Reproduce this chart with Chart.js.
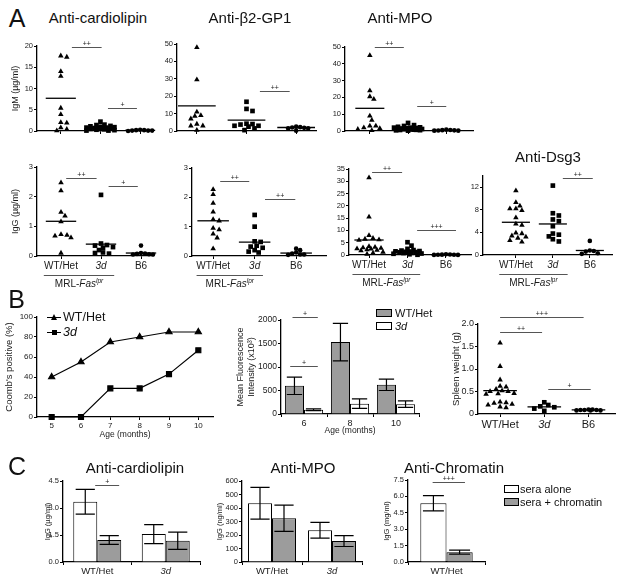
<!DOCTYPE html>
<html>
<head>
<meta charset="utf-8">
<script src="https://cdn.jsdelivr.net/npm/chart.js@4.4.1/dist/chart.umd.min.js"></script>
<style>
  body { margin: 0; background: #fff; }
  #fig { position: relative; width: 624px; height: 584px; overflow: hidden; font-family: "Liberation Sans", Arial, sans-serif; color: #111; }
  #fig canvas { position: absolute; }
  .t { position: absolute; white-space: nowrap; line-height: 1; transform: translate(-50%, -50%); }
  .l { position: absolute; white-space: nowrap; line-height: 1; transform: translate(0, -50%); }
  .box { position: absolute; border: 1px solid #000; box-sizing: border-box; }
</style>
</head>
<body>
<div id="fig"></div>
<script>
const FONT = '"Liberation Sans", Arial, sans-serif';
const INK = "#1a1a1a";
const GREY = "#9c9c9c";

// ---- A: autoantibody scatter data (groups WT/Het, 3d, B6) ----
const groups = ["WT/Het", "3d", "B6"];

const clIgmWT = [17.7, 17.4, 14.0, 12.9, 5.4, 3.9, 2.0, 1.9, 0.8, 0.4, 0.1];
const clIgm3d = [2.2, 1.5, 1.4, 1.2, 1.1, 1.0, 0.9, 0.8, 0.8, 0.7, 0.7, 0.6, 0.6, 0.5, 0.5, 0.4, 0.3, 0.2, 0.1, 0.1];
const clIgmB6 = [0.3, 0.2, 0.2, 0.1, 0.1, 0.1, 0.0];
const clIgmMean = [7.7, 0.7, 0.15];

const b2IgmWT = [48, 29.5, 11, 9, 8.5, 7, 4, 3, 3, 0.5];
const b2Igm3d = [16.8, 12.7, 11.5, 4.2, 4, 3.7, 3, 3, 2.5, 1.5, 0.5];
const b2IgmB6 = [2.5, 2.2, 2, 1.8, 1.5, 1.5, 0.2];
const b2IgmMean = [14.4, 6.3, 2.0];

const mpoIgmWT = [45, 24, 20.5, 19, 9, 6.5, 3, 3, 2, 1.5, 1, 0.3];
const mpoIgm3d = [4.8, 3.5, 3, 2.5, 2.2, 2, 2, 1.8, 1.6, 1.5, 1.4, 1.3, 1.2, 1.1, 1, 1, 0.9, 0.8, 0.7, 0.6, 0.5, 0.4, 0.2];
const mpoIgmB6 = [0.8, 0.6, 0.5, 0.4, 0.3, 0.2, 0.2];
const mpoIgmMean = [13.5, 1.4, 0.4];

const clIggWT = [2.47, 2.2, 1.48, 1.35, 1.16, 0.73, 0.7, 0.68, 0.62, 0.1];
const clIgg3d = [2.06, 0.42, 0.37, 0.35, 0.3, 0.28, 0.2, 0.12, 0.1, 0.08];
const clIggB6 = [0.35, 0.1, 0.08, 0.07, 0.06, 0.05, 0.05];
const clIggMean = [1.17, 0.4, 0.1];

const b2IggWT = [2.27, 2.1, 1.8, 1.5, 1.25, 1.2, 0.95, 0.9, 0.75, 0.62, 0.25];
const b2Igg3d = [1.4, 1.0, 0.5, 0.48, 0.35, 0.32, 0.28, 0.2, 0.15, 0.12];
const b2IggB6 = [0.25, 0.2, 0.12, 0.08, 0.05, 0.05, 0.04];
const b2IggMean = [1.2, 0.47, 0.1];

const mpoIggWT = [31.5, 15.5, 8, 6.8, 6.5, 6.2, 6, 3.5, 3.2, 3, 2.8, 2.6, 2.5, 2.2, 2, 1.8, 1.2, 0.8, 0.3];
const mpoIgg3d = [5.2, 3.8, 2.5, 2, 1.8, 1.6, 1.5, 1.4, 1.3, 1.2, 1.1, 1, 0.9, 0.8, 0.6, 0.5, 0.3, 0.1];
const mpoIggB6 = [0.3, 0.2, 0.15, 0.1, 0.1, 0.05, 0.05];
const mpoIggMean = [6.1, 1.5, 0.1];

const dsgWT = [11.4, 9.3, 8.7, 8.2, 8.2, 7.9, 6.6, 5.5, 5.3, 3.9, 3.8, 3.4, 3.2, 3.0, 2.6, 2.3];
const dsg3d = [12.3, 7.4, 7.0, 6.3, 6.0, 5.1, 3.8, 3.6, 3.3, 2.8, 2.4];
const dsgB6 = [2.5, 0.8, 0.7, 0.6, 0.3, 0.2];
const dsgMean = [5.8, 5.5, 0.8];

// ---- B ----
const ageMonths = [5, 6, 7, 8, 9, 10];
const coombsWT = [40, 55, 75, 80, 85, 85];
const coombs3d = [0, 0, 28.6, 28.6, 42.9, 66.7];

const mfiAges = ["6", "8", "10"];
const mfiWT = [600, 1530, 620];
const mfiWTErr = [185, 400, 120];
const mfi3d = [90, 220, 210];
const mfi3dErr = [20, 100, 70];

const spleenWT = [1.58, 1.06, 0.76, 0.62, 0.6, 0.55, 0.52, 0.5, 0.5, 0.46, 0.45, 0.44, 0.27, 0.25, 0.24, 0.22, 0.2, 0.16, 0.14];
const spleen3d = [0.26, 0.2, 0.17, 0.15, 0.12, 0.07];
const spleenB6 = [0.1, 0.1, 0.09, 0.09, 0.09, 0.08, 0.08, 0.08];
const spleenMean = [0.52, 0.16, 0.09];

// ---- C ----
const cGroups = ["WT/Het", "3d"];
const clAlone = [3.35, 1.55], clAloneErr = [0.69, 0.53];
const clChrom = [1.22, 1.18], clChromErr = [0.24, 0.48];
const mpoAlone = [435, 235], mpoAloneErr = [118, 58];
const mpoChrom = [324, 155], mpoChromErr = [97, 40];
const chrAlone = [5.37], chrAloneErr = [0.7];
const chrChrom = [0.9], chrChromErr = [0.18];

const fig = document.getElementById("fig");

// significance bars, error bars and the MRL-Fas(lpr) bracket
const extras = {
  id: "extras",
  afterDatasetsDraw(chart, args, opts) {
    const ctx = chart.ctx, xs = chart.scales.x, ys = chart.scales.y;
    ctx.save();
    ctx.strokeStyle = "#000";
    chart.data.datasets.forEach((ds, i) => {
      if (!ds.errors) return;
      chart.getDatasetMeta(i).data.forEach((bar, j) => {
        const x = bar.x, w = bar.width * 0.4;
        const y1 = ys.getPixelForValue(ds.data[j] + ds.errors[j]);
        const y2 = ys.getPixelForValue(Math.max(ds.data[j] - ds.errors[j], 0));
        ctx.lineWidth = 1.2;
        ctx.beginPath();
        ctx.moveTo(x, y1); ctx.lineTo(x, y2);
        ctx.moveTo(x - w, y1); ctx.lineTo(x + w, y1);
        ctx.moveTo(x - w, y2); ctx.lineTo(x + w, y2);
        ctx.stroke();
      });
    });
    (opts.sig || []).forEach(([a, b, v, txt]) => {
      const py = Math.round(ys.getPixelForValue(v)) + 0.5;
      const xa = xs.getPixelForValue(a), xb = xs.getPixelForValue(b);
      ctx.strokeStyle = "#555";
      ctx.lineWidth = 1;
      ctx.beginPath(); ctx.moveTo(xa, py); ctx.lineTo(xb, py); ctx.stroke();
      ctx.fillStyle = INK;
      ctx.font = "7px " + FONT;
      ctx.textAlign = "center";
      ctx.textBaseline = "bottom";
      ctx.fillText(txt, (xa + xb) / 2, py);
    });
    if (opts.mrl) {
      const xa = xs.getPixelForValue(opts.mrl[0]), xb = xs.getPixelForValue(opts.mrl[1]);
      const y = ys.bottom + 19.5;
      ctx.strokeStyle = "#555"; ctx.lineWidth = 1;
      ctx.beginPath(); ctx.moveTo(xa, y); ctx.lineTo(xb, y); ctx.stroke();
      const f1 = "10px " + FONT, f2 = "italic 10px " + FONT, f3 = "italic 6.5px " + FONT;
      ctx.font = f1; const w1 = ctx.measureText("MRL-").width;
      ctx.font = f2; const w2 = ctx.measureText("Fas").width;
      ctx.font = f3; const w3 = ctx.measureText("lpr").width;
      let x = (xa + xb) / 2 - (w1 + w2 + w3) / 2;
      const base = ys.bottom + 31;
      ctx.fillStyle = INK; ctx.textAlign = "left"; ctx.textBaseline = "alphabetic";
      ctx.font = f1; ctx.fillText("MRL-", x, base); x += w1;
      ctx.font = f2; ctx.fillText("Fas", x, base); x += w2;
      ctx.font = f3; ctx.fillText("lpr", x, base - 4);
    }
    ctx.restore();
  }
};
Chart.register(extras);

function makeCanvas(box, yw, xh, padTop, padRight) {
  const c = document.createElement("canvas");
  const w = box.r - box.l + yw + padRight, h = box.b - box.t + padTop + xh;
  c.width = w; c.height = h;
  c.style.left = (box.l - yw) + "px";
  c.style.top = (box.t - padTop) + "px";
  c.style.width = w + "px";
  c.style.height = h + "px";
  fig.appendChild(c);
  return c;
}

// beeswarm: slide each point sideways (within a limit) to the least crowded spot
function swarm(vals, center, pxPerX, pxPerY, gap, maxHalf) {
  const placed = [];
  return vals.map(v => {
    const py = v * pxPerY;
    let best = 0, bestD = -1;
    for (let k = 0; ; k++) {
      const cand = (k % 2 ? 1 : -1) * Math.ceil(k / 2) * 2;
      if (Math.abs(cand) > maxHalf) break;
      const d = placed.reduce((m, p) => Math.min(m, Math.hypot(p[0] - cand, p[1] - py)), Infinity);
      if (d >= gap) { best = cand; bestD = d; break; }
      if (d > bestD + 0.5) { best = cand; bestD = d; }
    }
    placed.push([best, py]);
    return { x: center + best / pxPerX, y: v };
  });
}

function yAxis(cfg) {
  return {
    min: 0, max: cfg.ymax,
    afterFit: s => { s.width = cfg.yw; },
    ticks: { stepSize: cfg.yStep, padding: 1, color: INK, font: { family: FONT, size: cfg.tickSize || 7.5 }, callback: cfg.yFmt || (v => v) },
    grid: { drawOnChartArea: false, drawTicks: true, tickLength: 3, tickColor: "#000", tickWidth: 1 },
    border: { color: "#000", width: 1.3 },
    title: { display: !!cfg.yTitle, text: cfg.yTitle, color: INK, font: { family: FONT, size: cfg.yTitleSize || 9 }, padding: { top: cfg.yTitlePad || 0, bottom: 0 } }
  };
}

function baseOptions(cfg, xScale) {
  return {
    responsive: false, animation: false, events: [],
    layout: { padding: { top: cfg.padTop, right: cfg.padRight, left: 0, bottom: 0 } },
    plugins: { legend: { display: false }, tooltip: { enabled: false }, extras: { sig: cfg.sig, mrl: cfg.mrl } },
    scales: { x: xScale, y: yAxis(cfg) }
  };
}

function scatterPanel(cfg) {
  cfg.padTop = cfg.padTop || 10; cfg.padRight = cfg.padRight || 4;
  const c = makeCanvas(cfg.box, cfg.yw, cfg.xh, cfg.padTop, cfg.padRight);
  const pxPerX = (cfg.box.r - cfg.box.l) / (cfg.xmax - cfg.xmin);
  const pxPerY = (cfg.box.b - cfg.box.t) / cfg.ymax;
  const styles = ["triangle", "rect", "circle"];
  const radii = [3.2, 3.3, 2.3];
  const datasets = [];
  cfg.sets.forEach((vals, g) => {
    const pts = swarm(vals, g + 1, pxPerX, pxPerY, g === 2 ? 3.8 : 4.6, 14);
    datasets.push({ type: "scatter", data: pts, pointStyle: styles[g], pointRadius: radii[g], backgroundColor: "#000", borderColor: "#000", borderWidth: 0, clip: false });
    datasets.push({ type: "line", data: [{ x: g + 1 - 0.38, y: cfg.means[g] }, { x: g + 1 + 0.38, y: cfg.means[g] }], borderColor: "#000", borderWidth: 1.3, pointRadius: 0, clip: false });
  });
  new Chart(c, {
    type: "scatter",
    data: { datasets },
    options: baseOptions(cfg, {
      type: "linear", min: cfg.xmin, max: cfg.xmax,
      afterFit: s => { s.height = cfg.xh; },
      afterBuildTicks: s => { s.ticks = [1, 2, 3].map(v => ({ value: v })); },
      grid: { drawOnChartArea: false, drawTicks: true, tickLength: 3, tickColor: "#000", tickWidth: 1 },
      border: { color: "#000", width: 1.3 },
      ticks: {
        autoSkip: false, maxRotation: 0, padding: 1, color: INK,
        font: ctx => ({ family: FONT, size: cfg.labelSize || 10, style: ctx.index === 1 ? "italic" : "normal" }),
        callback: v => cfg.labels ? groups[v - 1] : ""
      }
    })
  });
}

function barPanel(cfg) {
  cfg.padRight = cfg.padRight || 4;
  const c = makeCanvas(cfg.box, cfg.yw, cfg.xh, cfg.padTop, cfg.padRight);
  new Chart(c, {
    type: "bar",
    data: {
      labels: cfg.labels,
      datasets: cfg.series.map(s => ({ label: s.label, data: s.data, errors: s.err, backgroundColor: s.color, borderColor: "#000", borderWidth: 1, categoryPercentage: cfg.catPct, barPercentage: 1 }))
    },
    options: baseOptions(cfg, {
      afterFit: s => { s.height = cfg.xh; },
      grid: { drawOnChartArea: false, drawTicks: true, tickLength: 3, tickColor: "#000", tickWidth: 1 },
      border: { color: "#000", width: 1.3 },
      ticks: { padding: 1, color: INK, font: ctx => ({ family: FONT, size: cfg.labelSize || 9.5, style: cfg.labels[ctx.index] === "3d" ? "italic" : "normal" }) },
      title: { display: !!cfg.xTitle, text: cfg.xTitle, color: INK, font: { family: FONT, size: 8.5 }, padding: { top: 0, bottom: 2 } }
    })
  });
}

function text(html, x, y, size, cls, extra) {
  const d = document.createElement("div");
  d.className = cls || "t";
  d.style.left = x + "px"; d.style.top = y + "px"; d.style.fontSize = size + "px";
  if (extra) Object.assign(d.style, extra);
  d.innerHTML = html;
  fig.appendChild(d);
}

function swatch(x, y, w, h, bg) {
  const d = document.createElement("div");
  d.className = "box";
  Object.assign(d.style, { left: x + "px", top: y + "px", width: w + "px", height: h + "px", background: bg });
  fig.appendChild(d);
}

// ---------- Panel A, IgM row ----------
scatterPanel({ box: { l: 37, t: 46, r: 152, b: 131 }, yw: 37, xh: 8, ymax: 20, yStep: 5, xmin: 0.4, xmax: 3.3,
  sets: [clIgmWT, clIgm3d, clIgmB6], means: clIgmMean, yTitle: "IgM (\u00b5g/ml)", yTitlePad: 10,
  sig: [[1.28, 2.03, 19.8, "++"], [2.19, 2.92, 5.3, "+"]] });
scatterPanel({ box: { l: 177, t: 44, r: 316, b: 131 }, yw: 30, xh: 8, ymax: 50, yStep: 10, xmin: 0.6, xmax: 3.4,
  sets: [b2IgmWT, b2Igm3d, b2IgmB6], means: b2IgmMean, sig: [[2.27, 2.87, 23.2, "++"]] });
scatterPanel({ box: { l: 345, t: 47, r: 473, b: 131 }, yw: 30, xh: 8, ymax: 50, yStep: 10, xmin: 0.35, xmax: 3.7, padTop: 12,
  sets: [mpoIgmWT, mpoIgm3d, mpoIgmB6], means: mpoIgmMean, sig: [[1.13, 1.89, 50.2, "++"], [2.24, 3.0, 15, "+"]] });

// ---------- Panel A, IgG row ----------
scatterPanel({ box: { l: 37, t: 167, r: 153, b: 256 }, yw: 37, xh: 34, ymax: 3, yStep: 1, xmin: 0.4, xmax: 3.3, labels: true,
  sets: [clIggWT, clIgg3d, clIggB6], means: clIggMean, yTitle: "IgG (\u00b5g/ml)", yTitlePad: 10, mrl: [0.57, 2.33],
  sig: [[1.13, 1.89, 2.63, "++"], [2.19, 2.92, 2.35, "+"]] });
scatterPanel({ box: { l: 192, t: 168, r: 326, b: 256 }, yw: 30, xh: 34, ymax: 3, yStep: 1, xmin: 0.49, xmax: 3.72, labels: true,
  sets: [b2IggWT, b2Igg3d, b2IggB6], means: b2IggMean, mrl: [0.6, 2.2],
  sig: [[1.17, 1.87, 2.57, "++"], [2.25, 2.98, 1.94, "++"]] });
scatterPanel({ box: { l: 349, t: 169, r: 471, b: 255 }, yw: 30, xh: 34, ymax: 35, yStep: 5, xmin: 0.48, xmax: 3.65, labels: true,
  sets: [mpoIggWT, mpoIgg3d, mpoIggB6], means: mpoIggMean, mrl: [0.57, 2.33],
  sig: [[1.08, 1.86, 33.6, "++"], [2.25, 3.26, 10.2, "+++"]] });
scatterPanel({ box: { l: 483, t: 176, r: 612, b: 255 }, yw: 30, xh: 34, ymax: 14, yStep: 2, xmin: 0.11, xmax: 3.6, labels: true,
  sets: [dsgWT, dsg3d, dsgB6], means: dsgMean, mrl: [0.55, 2.4],
  sig: [[2.27, 3.08, 13.6, "++"]] });

// ---------- Panel B: Coombs line chart ----------
(function () {
  const c = makeCanvas({ l: 37, t: 317, r: 213, b: 417 }, 37, 24, 8, 6);
  new Chart(c, {
    type: "line",
    data: {
      datasets: [
        { label: "WT/Het", data: ageMonths.map((m, i) => ({ x: m, y: coombsWT[i] })), pointStyle: "triangle", pointRadius: 3.5, borderColor: "#000", backgroundColor: "#000", borderWidth: 1.2, clip: false },
        { label: "3d", data: ageMonths.map((m, i) => ({ x: m, y: coombs3d[i] })), pointStyle: "rect", pointRadius: 3.5, borderColor: "#000", backgroundColor: "#000", borderWidth: 1.2, clip: false }
      ]
    },
    options: {
      responsive: false, animation: false, events: [],
      layout: { padding: { top: 8, right: 6, left: 0, bottom: 0 } },
      plugins: { legend: { display: false }, tooltip: { enabled: false } },
      scales: {
        x: {
          type: "linear", min: 4.5, max: 10.5,
          afterFit: s => { s.height = 24; },
          afterBuildTicks: s => { s.ticks = ageMonths.map(v => ({ value: v })); },
          ticks: { padding: 1, color: INK, font: { family: FONT, size: 8 } },
          grid: { drawOnChartArea: false, drawTicks: true, tickLength: 3, tickColor: "#000" },
          border: { color: "#000", width: 1.3 },
          title: { display: true, text: "Age (months)", color: INK, font: { family: FONT, size: 8.5 }, padding: { top: 0, bottom: 1 } }
        },
        y: yAxis({ ymax: 100, yStep: 20, yw: 37, tickSize: 8, yTitle: "Coomb's positive (%)", yTitleSize: 9.5, yTitlePad: 4 })
      }
    }
  });
})();

// ---------- Panel B: MFI bars ----------
barPanel({ box: { l: 281, t: 320, r: 419, b: 414 }, yw: 50, xh: 24, padTop: 12, ymax: 2000, yStep: 500, tickSize: 8.5,
  yTitle: ["Mean Fluorescence", "Intensity (x10\u00b3)"], yTitleSize: 9, yTitlePad: 4.5, xTitle: "Age (months)", labelSize: 9,
  labels: mfiAges, catPct: 0.83,
  series: [{ label: "WT/Het", data: mfiWT, err: mfiWTErr, color: GREY }, { label: "3d", data: mfi3d, err: mfi3dErr, color: "#fff" }],
  sig: [[-0.3, 0.3, 1022, "+"], [-0.25, 0.3, 2066, "+"]] });

// ---------- Panel B: spleen weight ----------
scatterPanel({ box: { l: 478, t: 324, r: 615, b: 414 }, yw: 38, xh: 20, padTop: 18, ymax: 2, yStep: 0.5, xmin: 0.5, xmax: 3.6,
  tickSize: 9, labelSize: 11, labels: true, yFmt: v => v === 0 ? "0" : v.toFixed(1),
  sets: [spleenWT, spleen3d, spleenB6], means: spleenMean, yTitle: "Spleen weight (g)", yTitleSize: 9.5, yTitlePad: 11,
  sig: [[1, 2.89, 2.15, "+++"], [1, 1.95, 1.83, "++"], [2.09, 3.05, 0.56, "+"]] });

// ---------- Panel C ----------
const cSeries = (a, ae, b, be) => [{ label: "sera alone", data: a, err: ae, color: "#fff" }, { label: "sera + chromatin", data: b, err: be, color: GREY }];
barPanel({ box: { l: 63, t: 481, r: 200, b: 562 }, yw: 30, xh: 16, padTop: 8, ymax: 4.5, yStep: 1.5, tickSize: 7.5, yFmt: v => v.toFixed(1),
  yTitle: "IgG (\u00b5g/ml)", yTitleSize: 7.5, yTitlePad: 10, labels: cGroups, catPct: 0.7,
  series: cSeries(clAlone, clAloneErr, clChrom, clChromErr), sig: [[-0.03, 0.32, 4.27, "+"]] });
barPanel({ box: { l: 242, t: 481, r: 362, b: 562 }, yw: 30, xh: 16, padTop: 8, ymax: 600, yStep: 100, tickSize: 7.5,
  yTitle: "IgG (ng/ml)", yTitleSize: 7.5, yTitlePad: 3.5, labels: cGroups, catPct: 0.8,
  series: cSeries(mpoAlone, mpoAloneErr, mpoChrom, mpoChromErr) });
barPanel({ box: { l: 408, t: 480, r: 485, b: 562 }, yw: 28, xh: 16, padTop: 8, ymax: 7.5, yStep: 1.5, tickSize: 7.5, yFmt: v => v.toFixed(1),
  yTitle: "IgG (mg/ml)", yTitleSize: 7.5, yTitlePad: 2.5, labels: ["WT/Het"], catPct: 0.68,
  series: cSeries(chrAlone, chrAloneErr, chrChrom, chrChromErr), sig: [[-0.18, 0.24, 7.3, "+++"]] });

// ---------- titles, panel letters, legends ----------
text("A", 17, 17.5, 25);
text("B", 16.5, 298.5, 25);
text("C", 17, 466, 25);
text("Anti-cardiolipin", 98, 17, 15);
text("Anti-\u03b22-GP1", 250, 17, 15);
text("Anti-MPO", 400, 17, 15);
text("Anti-Dsg3", 548, 156, 15);
text("Anti-cardiolipin", 135, 467, 15);
text("Anti-MPO", 303, 467, 15);
text("Anti-Chromatin", 454, 467, 15);

// line-chart legend
[[317, "triangle", "WT/Het"], [332, "rect", "<i>3d</i>"]].forEach(([y, shape, lbl]) => {
  const ln = document.createElement("div");
  Object.assign(ln.style, { position: "absolute", left: "47px", top: (y - 0.5) + "px", width: "14px", borderTop: "1px solid #000" });
  fig.appendChild(ln);
  const mk = document.createElement("div");
  if (shape === "triangle") {
    Object.assign(mk.style, { position: "absolute", left: "50.5px", top: (y - 3.5) + "px", width: 0, height: 0, borderLeft: "3.5px solid transparent", borderRight: "3.5px solid transparent", borderBottom: "6px solid #000" });
  } else {
    Object.assign(mk.style, { position: "absolute", left: "51.5px", top: (y - 2.5) + "px", width: "5px", height: "5px", background: "#000" });
  }
  fig.appendChild(mk);
  text(lbl, 63, y, 12.5, "l");
});

// MFI legend
swatch(376, 309, 16, 8, GREY);
text("WT/Het", 395, 312.5, 11, "l");
swatch(376, 322, 16, 8, "#fff");
text("<i>3d</i>", 395, 325.5, 11, "l");

// C legend
swatch(504, 485, 15, 8, "#fff");
text("sera alone", 520, 489, 11, "l");
swatch(504, 498, 15, 8, GREY);
text("sera + chromatin", 520, 502, 11, "l");
</script>
</body>
</html>
